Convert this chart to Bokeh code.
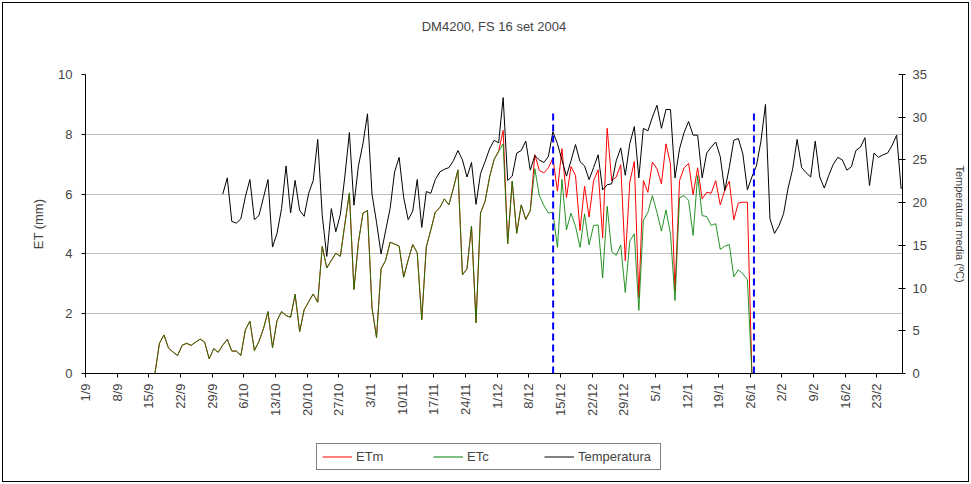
import math
import numpy as np
from bokeh.plotting import figure
from bokeh.layouts import column
from bokeh.models import (Range1d, LinearAxis, FixedTicker, Legend, LegendItem,
                          ColumnDataSource, Title)
from bokeh.embed import file_html
from bokeh.resources import INLINE

chart_title = "DM4200, FS 16 set 2004"

# x-axis: one tick per week starting 1/9/2004 (day index from 1 Sept 2004)
tick_days = list(range(0, 176, 7))
tick_labels = ["1/9", "8/9", "15/9", "22/9", "29/9", "6/10", "13/10", "20/10", "27/10",
               "3/11", "10/11", "17/11", "24/11", "1/12", "8/12", "15/12", "22/12", "29/12",
               "5/1", "12/1", "19/1", "26/1", "2/2", "9/2", "16/2", "23/2"]

# ETc (mm), daily 1/9/2004 .. 28/2/2005
etc_values = ([0.0] * 16 +
    [1.01, 1.29, 0.85, 0.72, 0.60, 0.94, 1.01, 0.94, 1.05, 1.15, 1.05, 0.49, 0.83, 0.71,
     0.95, 1.14, 0.75, 0.75, 0.60, 1.46, 1.75, 0.77, 1.07, 1.50,
     2.07, 0.86, 1.77, 2.07, 1.94, 1.88, 2.65, 1.40, 2.13, 2.40,
     2.66, 2.38, 4.25, 3.53, 3.78, 4.02, 3.92, 5.00, 6.04, 2.81,
     4.39, 5.36, 5.45, 2.20, 1.20, 3.50, 3.78, 4.39, 4.33, 4.26,
     3.22, 3.80, 4.31, 4.04, 1.80, 4.23, 4.80, 5.40, 5.55, 5.84,
     5.64, 6.20, 6.81, 3.30, 3.50, 4.93, 1.70, 5.37, 5.76, 6.57, 7.16,
     7.43, 7.68, 4.34, 6.43, 4.69, 5.64, 5.15, 5.45, 6.85, 5.95,
     5.62, 5.37, 5.39, 4.22, 6.49, 4.81, 5.36, 4.92, 4.22, 5.34,
     4.30, 4.95, 4.97, 3.20, 5.59, 4.08, 3.95, 4.30, 2.71, 4.43,
     4.67, 2.11, 5.12, 5.39, 5.95, 5.39, 4.76, 5.47, 4.67, 2.44,
     5.88, 5.95, 5.79, 4.62, 6.62, 5.28, 5.25, 4.95, 5.01, 4.15,
     4.26, 4.31, 3.24, 3.47, 3.33, 3.14] +
    [0.0] * 34)

# ETm (mm): equal to ETc until early December
etm_values = (etc_values[:91] +
    [7.43, 8.13, 4.34, 6.43, 4.69, 5.64, 5.15, 5.45, 7.32, 6.79,
     6.71, 6.88, 7.21, 6.10, 7.52, 5.88, 6.92, 6.62, 4.78, 6.27,
     5.23, 6.45, 6.81, 4.54, 8.20, 6.45, 6.57, 6.98, 3.77, 6.40,
     7.09, 2.55, 6.45, 6.06, 7.07, 6.85, 6.34, 7.68, 7.01, 2.78,
     6.45, 6.88, 7.03, 5.98, 6.88, 5.84, 6.06, 6.03, 6.45, 5.64,
     6.12, 6.43, 5.14, 5.70, 5.73, 5.73] +
    [0.0] * 34)

# Mean temperature (°C), available from 1/10/2004
temp_values = ([float("nan")] * 30 +
    [21.0, 22.9, 17.8, 17.6, 18.1, 20.7, 22.7, 18.0, 18.5, 20.6,
     22.7, 14.8, 16.4, 19.3, 24.3, 18.8, 22.6, 19.1, 18.4, 21.1,
     22.6, 27.4, 18.5, 13.7, 19.3, 16.6, 18.6, 23.1, 28.2, 19.7,
     24.3, 26.9, 30.4, 21.0, 17.7, 14.0, 16.7, 19.3, 23.6, 25.3,
     20.6, 18.0, 19.0, 22.7, 17.1, 21.3, 21.1, 22.7, 23.6, 23.9,
     24.1, 24.9, 26.1, 25.0, 23.0, 24.7, 19.8, 23.4, 24.8, 26.3,
     27.3, 27.0, 32.3, 22.6, 23.1, 25.8, 26.1, 27.2, 23.8, 25.5,
     25.0, 24.7, 25.4, 28.3, 26.9, 25.0, 23.1, 24.9, 26.8, 24.8,
     24.3, 22.7, 24.1, 25.6, 21.5, 22.1, 22.2, 24.9, 26.4, 23.2,
     26.9, 28.9, 22.9, 28.7, 28.4, 30.0, 31.4, 28.7, 30.9, 30.9,
     22.9, 26.3, 28.2, 29.5, 27.9, 27.9, 22.9, 25.8, 26.5, 27.1,
     25.4, 21.4, 24.1, 27.3, 27.5, 25.7, 21.5, 23.0, 24.3, 27.2,
     31.5, 18.1, 16.4, 17.3, 18.7, 21.7, 23.9, 27.4, 24.1, 23.5,
     23.0, 27.2, 23.0, 21.7, 23.2, 24.5, 25.3, 25.0, 23.8, 24.2,
     26.1, 26.5, 27.6, 22.0, 25.8, 25.3, 25.6, 25.8, 26.7, 27.9,
     21.6])

# blue dashed markers (day axis position) and their top (mm)
marker_x = [103.4, 147.8]
marker_top = [8.82, 8.82]

FONT = "Liberation Sans"
x_pos = np.arange(len(etc_values)) + 0.35
src = ColumnDataSource(dict(x=x_pos, etm=etm_values, etc=etc_values, temp=temp_values))

p = figure(width=971, height=420, output_backend="svg", toolbar_location=None, title=None,
           x_range=Range1d(0, 180.65), y_range=Range1d(0, 10),
           min_border_left=85, min_border_right=69, min_border_top=74, min_border_bottom=47)
p.outline_line_color = None
p.border_fill_color = None
p.background_fill_color = None

# spacer nearest the plot, then the chart title above it
p.add_layout(Title(text=" ", text_font=FONT, text_font_size="13px", standoff=19), "above")
p.add_layout(Title(text=chart_title, align="center", text_font=FONT, text_font_size="13px",
                   text_font_style="normal", standoff=10), "above")

p.extra_y_ranges = {"temp": Range1d(0, 35)}

xa = p.xaxis[0]
xa.ticker = FixedTicker(ticks=tick_days)
xa.major_label_overrides = {d: l for d, l in zip(tick_days, tick_labels)}
xa.major_label_orientation = math.pi / 2
xa.minor_tick_line_color = None
xa.major_tick_in = 0
xa.major_tick_out = 4
xa.major_label_text_font = FONT
xa.major_label_text_font_size = "13px"
xa.major_label_standoff = 6
xa.axis_line_color = "black"

ya = p.yaxis[0]
ya.ticker = FixedTicker(ticks=[0, 2, 4, 6, 8, 10])
ya.minor_tick_line_color = None
ya.major_tick_in = 0
ya.major_tick_out = 4
ya.major_label_text_font = FONT
ya.major_label_text_font_size = "13px"
ya.major_label_standoff = 9
ya.axis_label = "ET (mm)"
ya.axis_label_text_font = FONT
ya.axis_label_text_font_size = "13px"
ya.axis_label_text_font_style = "normal"
ya.axis_label_standoff = 9

ra = LinearAxis(y_range_name="temp", ticker=FixedTicker(ticks=[0, 5, 10, 15, 20, 25, 30, 35]),
                axis_label="Temperatura media (ºC)")
ra.minor_tick_line_color = None
ra.major_tick_in = 4
ra.major_tick_out = 3
ra.major_label_text_font = FONT
ra.major_label_text_font_size = "13px"
ra.major_label_standoff = 7
ra.axis_label_text_font = FONT
ra.axis_label_text_font_size = "11px"
ra.axis_label_text_font_style = "normal"
ra.axis_label_standoff = 24
p.add_layout(ra, "right")

p.xgrid.visible = False
p.ygrid.ticker = FixedTicker(ticks=[2, 4, 6, 8])
p.ygrid.grid_line_color = "#BFBFBF"

r_m = p.line("x", "etm", source=src, color="#FF0000", line_width=1)
r_c = p.line("x", "etc", source=src, color="#008000", line_width=1, line_alpha=0.85)
r_t = p.line("x", "temp", source=src, color="black", line_width=1, y_range_name="temp")

p.segment(x0=marker_x, y0=[0, 0], x1=marker_x, y1=marker_top, line_color="#0000FF",
          line_width=2, line_dash="7 4")

# legend strip below the chart (same series, its own small canvas)
lg = figure(width=971, height=64, output_backend="svg", toolbar_location=None,
            x_range=Range1d(-1000, -999), y_range=Range1d(-1000, -999),
            x_axis_type=None, y_axis_type=None, min_border=0)
lg.outline_line_color = None
lg.border_fill_color = None
lg.background_fill_color = None
lg.grid.visible = False
l_m = lg.line("x", "etm", source=src, color="#FF0000", line_width=1)
l_c = lg.line("x", "etc", source=src, color="#008000", line_width=1)
l_t = lg.line("x", "temp", source=src, color="black", line_width=1)

legend = Legend(items=[LegendItem(label="ETm", renderers=[l_m]),
                       LegendItem(label="ETc", renderers=[l_c]),
                       LegendItem(label="Temperatura", renderers=[l_t])],
                orientation="horizontal", location=(231, 14),
                border_line_color="black", border_line_width=1,
                background_fill_color="white", background_fill_alpha=1,
                padding=5, spacing=0, label_width=77, glyph_width=30, glyph_height=13,
                label_height=13, label_standoff=4, label_text_font=FONT,
                label_text_font_size="13px", margin=0)
lg.add_layout(legend, "center")

layout = column(p, lg, spacing=0)
layout.styles = {"outline": "1px solid #000000", "outline-offset": "-3px",
                 "background-color": "white"}
open("out.html", "w").write(file_html(layout, INLINE))
